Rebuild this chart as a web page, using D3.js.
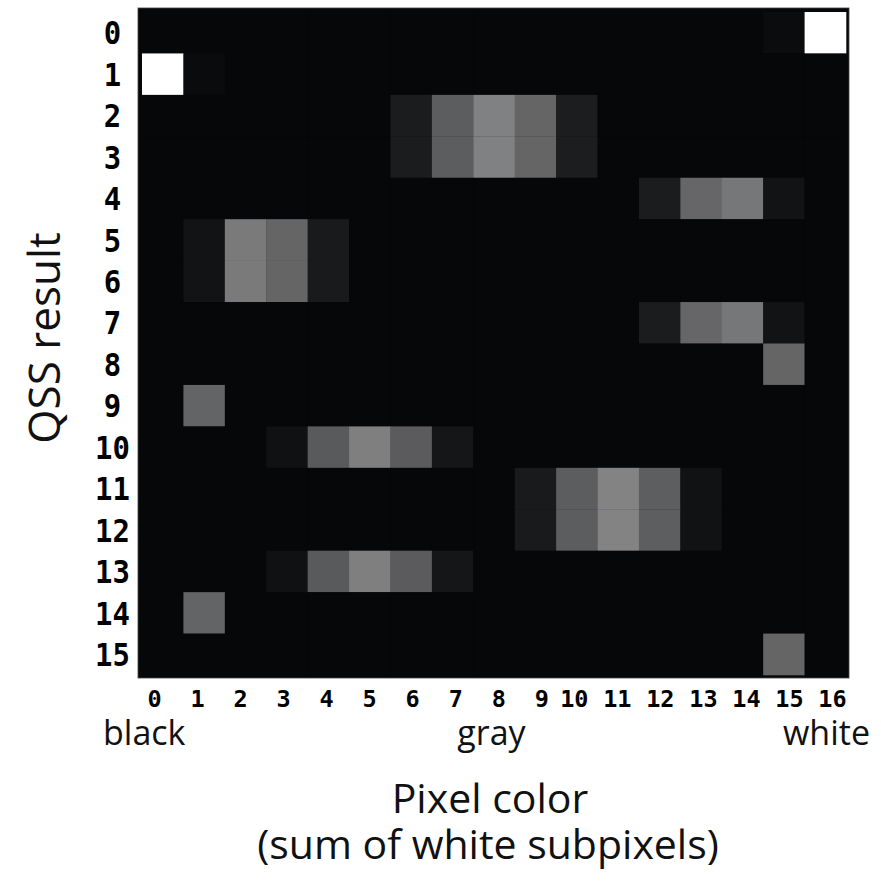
<!DOCTYPE html>
<html lang="en">
<head>
<meta charset="UTF-8">
<title>QSS result vs pixel color</title>
<script src="https://d3js.org/d3.v7.min.js" charset="utf-8"></script>
<style>
  body { margin: 0; background: white; }
  .tick text, .xtick { font-family: "DejaVu Sans Mono", monospace; font-weight: bold; fill: black; }
  .lbl { font-family: "Open Sans", "Noto Sans", sans-serif; fill: #111; }
</style>
</head>
<body>
<svg id="chart" width="881" height="885"></svg>
<script>
// rows = QSS result, columns = pixel color (sum of white subpixels)
var rowLabels = d3.range(16).map(String);
var colLabels = d3.range(17).map(String);

// fraction per cell (0 = black, 1 = white)
var row0  = [0,0,0,0,0,0,0,0,0,0,0,0,0,0,0,0.02,1];
var row1  = [1,0.015,0,0,0,0,0,0,0,0,0,0,0,0,0,0,0];
var row2  = [0,0,0,0,0,0,0.085,0.345,0.49,0.38,0.09,0,0,0,0,0,0];
var row3  = [0,0,0,0,0,0,0.085,0.345,0.49,0.38,0.09,0,0,0,0,0,0];
var row4  = [0,0,0,0,0,0,0,0,0,0,0,0,0.085,0.385,0.45,0.05,0];
var row5  = [0,0.05,0.465,0.38,0.075,0,0,0,0,0,0,0,0,0,0,0,0];
var row6  = [0,0.05,0.465,0.38,0.075,0,0,0,0,0,0,0,0,0,0,0,0];
var row7  = [0,0,0,0,0,0,0,0,0,0,0,0,0.085,0.385,0.45,0.05,0];
var row8  = [0,0,0,0,0,0,0,0,0,0,0,0,0,0,0,0.38,0];
var row9  = [0,0.375,0,0,0,0,0,0,0,0,0,0,0,0,0,0,0];
var row10 = [0,0,0,0.04,0.335,0.485,0.34,0.06,0,0,0,0,0,0,0,0,0];
var row11 = [0,0,0,0,0,0,0,0,0,0.075,0.345,0.5,0.35,0.045,0,0,0];
var row12 = [0,0,0,0,0,0,0,0,0,0.075,0.345,0.5,0.35,0.045,0,0,0];
var row13 = [0,0,0,0.04,0.335,0.485,0.34,0.06,0,0,0,0,0,0,0,0,0];
var row14 = [0,0.375,0,0,0,0,0,0,0,0,0,0,0,0,0,0,0];
var row15 = [0,0,0,0,0,0,0,0,0,0,0,0,0,0,0,0.38,0];

var rows = [row0,row1,row2,row3,row4,row5,row6,row7,row8,row9,row10,row11,row12,row13,row14,row15];

var cells = [];
rows.forEach(function(r, i){
  r.forEach(function(v, j){
    cells.push({row: rowLabels[i], col: colLabels[j], value: v});
  });
});

var svg = d3.select("#chart");

var x = d3.scaleBand().domain(colLabels).range([142, 846]);
var y = d3.scaleBand().domain(rowLabels).range([12, 675]);
var color = d3.scaleLinear().domain([0, 1]).range(["#060709", "#ffffff"]);

// dark frame behind the cells
svg.append("rect")
  .attr("x", 138).attr("y", 8)
  .attr("width", 711).attr("height", 670)
  .style("fill", "#060709")
  .style("stroke", "#444")
  .style("stroke-width", 0.8);

svg.selectAll("rect.cell")
  .data(cells)
  .enter().append("rect")
  .attr("class", "cell")
  .attr("x", function(d){ return x(d.col); })
  .attr("y", function(d){ return y(d.row); })
  .attr("width", x.bandwidth() + 0.3)
  .attr("height", y.bandwidth() + 0.3)
  .style("fill", function(d){ return color(d.value); });

// row labels, centred in a column left of the frame
var yAxis = svg.append("g")
  .attr("transform", "translate(112.5,0)")
  .call(d3.axisLeft(y).tickSize(0).tickPadding(0));
yAxis.select(".domain").remove();
yAxis.selectAll("text")
  .attr("text-anchor", "middle")
  .attr("x", 0)
  .attr("dy", "0.36em")
  .attr("transform", "scale(1,1.12)")
  .style("font-size", "29px");

// column labels were typed as one monospaced line: "0  1  2 ... 9 10 11 ..."
var labelX = d3.scaleLinear().domain([0, 16]).range([154.5, 843]);
svg.selectAll("text.xtick")
  .data(colLabels)
  .enter().append("text")
  .attr("class", "xtick")
  .attr("x", function(d){ return labelX(+d) - (d.length > 1 ? 10.5 : 0); })
  .attr("y", 707)
  .attr("text-anchor", "middle")
  .style("font-size", "23.5px")
  .text(function(d){ return d; });

// end labels
svg.append("text").attr("class", "lbl")
  .attr("x", 103).attr("y", 745)
  .style("font-size", "34px")
  .text("black");
svg.append("text").attr("class", "lbl")
  .attr("x", 491.5).attr("y", 745)
  .attr("text-anchor", "middle")
  .style("font-size", "34px")
  .text("gray");
svg.append("text").attr("class", "lbl")
  .attr("x", 870).attr("y", 745)
  .attr("text-anchor", "end")
  .style("font-size", "34px")
  .text("white");

// axis titles
svg.append("text").attr("class", "lbl")
  .attr("x", 490).attr("y", 813)
  .attr("text-anchor", "middle")
  .style("font-size", "41px")
  .text("Pixel color");
svg.append("text").attr("class", "lbl")
  .attr("x", 488).attr("y", 859)
  .attr("text-anchor", "middle")
  .style("font-size", "41px")
  .text("(sum of white subpixels)");
svg.append("text").attr("class", "lbl")
  .attr("transform", "translate(60,338) rotate(-90)")
  .attr("text-anchor", "middle")
  .style("font-size", "44px")
  .text("QSS result");
</script>
</body>
</html>
